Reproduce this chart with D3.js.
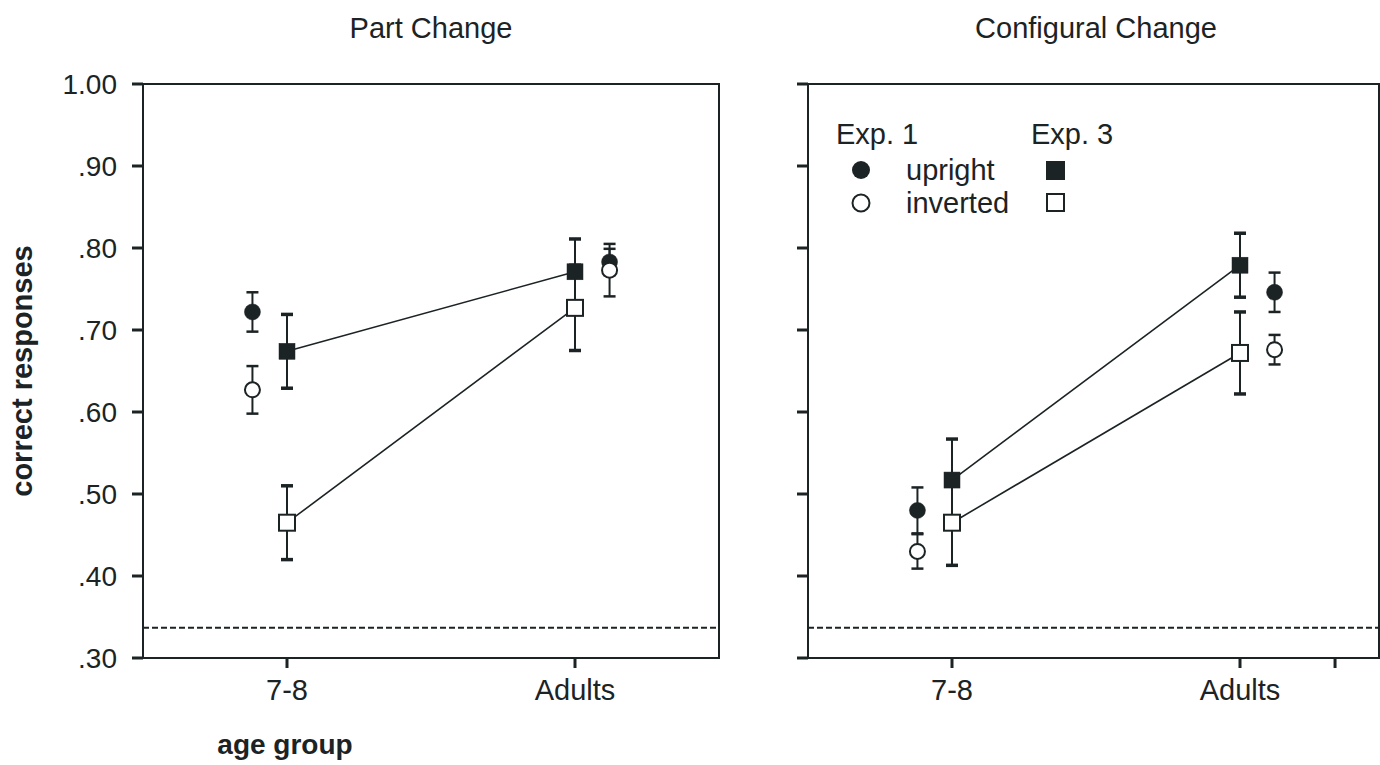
<!DOCTYPE html>
<html lang="en">
<head>
<meta charset="utf-8">
<title>Part and configural change</title>
<script src="https://d3js.org/d3.v7.min.js"></script>
<style>
  body { margin: 0; background: #fff; }
  svg text { font-family: "Liberation Sans", Arial, sans-serif; fill: #1c2325; }
</style>
</head>
<body>
<div id="drawing"></div>
<script>

// ---- data ----
var categories = ['7-8', 'Adults'];
var panelTitles = ['Part Change', 'Configural Change'];
var yTicks = [0.30, 0.40, 0.50, 0.60, 0.70, 0.80, 0.90, 1.00];
var yTickLabels = ['.30', '.40', '.50', '.60', '.70', '.80', '.90', '1.00'];
var chance = 0.337;

// Part Change
var partExp1Upright = [0.722, 0.783];
var partExp1UprightErr = [0.024, 0.016];
var partExp1Inverted = [0.627, 0.773];
var partExp1InvertedErr = [0.029, 0.032];
var partExp3Upright = [0.674, 0.771];
var partExp3UprightErr = [0.045, 0.040];
var partExp3Inverted = [0.465, 0.727];
var partExp3InvertedErr = [0.045, 0.052];

// Configural Change
var confExp1Upright = [0.480, 0.746];
var confExp1UprightErr = [0.028, 0.024];
var confExp1Inverted = [0.430, 0.676];
var confExp1InvertedErr = [0.021, 0.018];
var confExp3Upright = [0.517, 0.779];
var confExp3UprightErr = [0.050, 0.039];
var confExp3Inverted = [0.465, 0.672];
var confExp3InvertedErr = [0.052, 0.050];

// Exp. 1 points sit beside the category (left for children, right for adults)
var exp1Offset = [-0.12, 0.12];

var ink = '#1c2325';

var svg = d3.select('#drawing').append('svg').attr('width', 1380).attr('height', 765);

var y = d3.scaleLinear().domain([0.30, 1.00]).range([658, 84]);

function drawPanel(left, title, series, extraTicks) {
	var x = d3.scaleLinear().domain([-0.5, 1.5]).range([left, left + 576]);
	var right = Math.min(x(1.5), 1379);
	var g = svg.append('g');

	g.append('text')
		.attr('x', (x(0) + x(1)) / 2)
		.attr('y', 38)
		.attr('text-anchor', 'middle')
		.style('font-size', '29px')
		.text(title);

	// frame
	g.append('rect')
		.attr('x', x(-0.5)).attr('y', y(1.0))
		.attr('width', right - x(-0.5)).attr('height', y(0.30) - y(1.0))
		.attr('fill', 'none').attr('stroke', ink).attr('stroke-width', 2);

	// y ticks
	g.selectAll('.ytick').data(yTicks).enter().append('line')
		.attr('x1', x(-0.5) - 11).attr('x2', x(-0.5))
		.attr('y1', function(d) { return y(d); }).attr('y2', function(d) { return y(d); })
		.attr('stroke', ink).attr('stroke-width', 3);

	// x ticks
	var xt = [0, 1].concat(extraTicks);
	g.selectAll('.xtick').data(xt).enter().append('line')
		.attr('x1', function(d) { return x(d); }).attr('x2', function(d) { return x(d); })
		.attr('y1', y(0.30)).attr('y2', y(0.30) + 10)
		.attr('stroke', ink).attr('stroke-width', 3);

	g.selectAll('.xlab').data(categories).enter().append('text')
		.attr('x', function(d, i) { return x(i); })
		.attr('y', 700)
		.attr('text-anchor', 'middle')
		.style('font-size', '29px')
		.text(function(d) { return d; });

	// chance line
	g.append('line')
		.attr('x1', x(-0.5)).attr('x2', right)
		.attr('y1', y(chance)).attr('y2', y(chance))
		.attr('stroke', ink).attr('stroke-width', 2).attr('stroke-dasharray', '6,3');

	// error bars
	series.forEach(function(s) {
		s.values.forEach(function(v, i) {
			var cx = x(i + s.offset[i]);
			var capH = s.shape == 'square' ? 3.5 : 2.5;
			g.append('line')
				.attr('x1', cx).attr('x2', cx)
				.attr('y1', y(v - s.err[i])).attr('y2', y(v + s.err[i]))
				.attr('stroke', ink).attr('stroke-width', 2);
			[v - s.err[i], v + s.err[i]].forEach(function(e) {
				g.append('line')
					.attr('x1', cx - 6).attr('x2', cx + 6)
					.attr('y1', y(e)).attr('y2', y(e))
					.attr('stroke', ink).attr('stroke-width', capH);
			});
		});
	});

	// connecting lines for Exp. 3
	var line = d3.line()
		.x(function(d, i) { return x(i); })
		.y(function(d) { return y(d); });
	series.filter(function(s) { return s.connect; }).forEach(function(s) {
		g.append('path').attr('d', line(s.values))
			.attr('fill', 'none').attr('stroke', ink).attr('stroke-width', 1.6);
	});

	// markers
	series.forEach(function(s) {
		s.values.forEach(function(v, i) {
			var cx = x(i + s.offset[i]);
			if (s.shape == 'circle') {
				g.append('circle').attr('cx', cx).attr('cy', y(v))
					.attr('r', s.filled ? 8 : 7.5)
					.attr('fill', s.filled ? ink : '#fff')
					.attr('stroke', ink).attr('stroke-width', s.filled ? 0.5 : 2);
			} else {
				g.append('rect').attr('x', cx - 8).attr('y', y(v) - 8)
					.attr('width', 16).attr('height', 16)
					.attr('fill', s.filled ? ink : '#fff')
					.attr('stroke', ink).attr('stroke-width', s.filled ? 0.5 : 2);
			}
		});
	});

	return x;
}

var noOffset = [0, 0];

drawPanel(143, panelTitles[0], [
	{ values: partExp1Upright, err: partExp1UprightErr, shape: 'circle', filled: true, offset: exp1Offset },
	{ values: partExp1Inverted, err: partExp1InvertedErr, shape: 'circle', filled: false, offset: exp1Offset },
	{ values: partExp3Upright, err: partExp3UprightErr, shape: 'square', filled: true, offset: noOffset, connect: true },
	{ values: partExp3Inverted, err: partExp3InvertedErr, shape: 'square', filled: false, offset: noOffset, connect: true }
], []);

drawPanel(808, panelTitles[1], [
	{ values: confExp1Upright, err: confExp1UprightErr, shape: 'circle', filled: true, offset: exp1Offset },
	{ values: confExp1Inverted, err: confExp1InvertedErr, shape: 'circle', filled: false, offset: exp1Offset },
	{ values: confExp3Upright, err: confExp3UprightErr, shape: 'square', filled: true, offset: noOffset, connect: true },
	{ values: confExp3Inverted, err: confExp3InvertedErr, shape: 'square', filled: false, offset: noOffset, connect: true }
], [1.33]);

// axis titles
svg.append('text')
	.attr('transform', 'translate(32,' + y(0.65) + ') rotate(-90)')
	.attr('text-anchor', 'middle')
	.style('font-size', '29px').style('font-weight', 'bold')
	.text('correct responses');

svg.append('text')
	.attr('x', 285).attr('y', 754)
	.attr('text-anchor', 'middle')
	.style('font-size', '28px').style('font-weight', 'bold')
	.text('age group');

// legend
var legend = svg.append('g').style('font-size', '29px');
legend.append('text').attr('x', 836).attr('y', 144).text('Exp. 1');
legend.append('text').attr('x', 1031).attr('y', 144).text('Exp. 3');
legend.append('text').attr('x', 906).attr('y', 180).text('upright');
legend.append('text').attr('x', 906).attr('y', 213).text('inverted');
legend.append('circle').attr('cx', 861).attr('cy', 170).attr('r', 9).attr('fill', ink);
legend.append('circle').attr('cx', 861).attr('cy', 203).attr('r', 8.5)
	.attr('fill', '#fff').attr('stroke', ink).attr('stroke-width', 2);
legend.append('rect').attr('x', 1046).attr('y', 161).attr('width', 19).attr('height', 19).attr('fill', ink);
legend.append('rect').attr('x', 1047).attr('y', 194).attr('width', 17).attr('height', 17)
	.attr('fill', '#fff').attr('stroke', ink).attr('stroke-width', 2);

// y tick labels (left panel only)
svg.selectAll('.ylab').data(yTicks).enter().append('text')
	.attr('x', 117)
	.attr('y', function(d) { return y(d); })
	.attr('dy', '0.36em')
	.attr('text-anchor', 'end')
	.style('font-size', '28px')
	.text(function(d, i) { return yTickLabels[i]; });

</script>
</body>
</html>
